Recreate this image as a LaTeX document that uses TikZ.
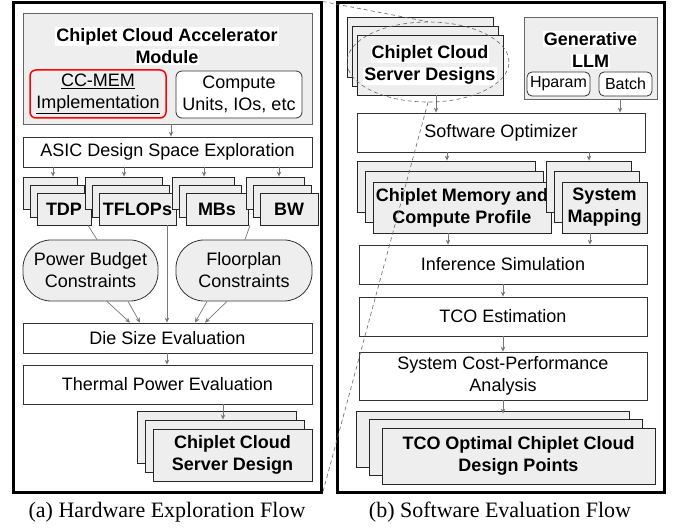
\documentclass[tikz,border=0pt]{standalone}
\usepackage{fontspec}
\setmainfont{Liberation Sans}
\newfontfamily\capfont{Liberation Serif}
\usetikzlibrary{arrows.meta,shapes.geometric,calc}
\newcommand\whl[1]{{\setlength{\fboxsep}{1pt}\colorbox{white}{#1}}}
\newcommand\fs{\fontsize{18}{22}\selectfont}
\newcommand\fsm{\fontsize{16}{19}\selectfont}
\definecolor{boxgray}{HTML}{EEEEEE}
\definecolor{arrgray}{HTML}{777777}
\newcommand\mystack[8]{%
  \node[stk, minimum width=#4pt, minimum height=#5pt] (#1-c) at ({#2-2*#6},{#3-2*#7}) {};
  \node[stk, minimum width=#4pt, minimum height=#5pt] (#1-b) at ({#2-#6},{#3-#7}) {};
  \node[stk, minimum width=#4pt, minimum height=#5pt, font=\fs\bfseries] (#1) at (#2,#3) {#8};
}
\begin{document}
\begin{tikzpicture}[x=1pt,y=-1pt,
  plain/.style={draw=black!80, line width=0.8pt, fill=white, inner sep=0pt, align=center, font=\fs},
  gbox/.style={plain, fill=boxgray, draw=black!60},
  stk/.style={draw=black!85, line width=0.8pt, fill=boxgray, inner sep=0pt, align=center},
  rbox/.style={plain, rounded corners=6pt},
  cons/.style={plain, fill=boxgray, rounded corners=28pt},
  outer/.style={draw=black, line width=3pt, inner sep=0pt},
  arr/.style={-{Stealth[length=5pt,width=4.5pt]}, draw=arrgray, line width=0.7pt},
  ln/.style={draw=arrgray, line width=0.7pt},
  zoomln/.style={draw=black!60, line width=0.6pt, dash pattern=on 4pt off 3pt},
  captext/.style={font=\capfont\fontsize{22}{26}\selectfont, inner sep=0pt}]
\useasboundingbox (0,0) rectangle (675,529);

% ---------- (a) Hardware Exploration Flow ----------
\node[outer, minimum width=308pt, minimum height=489pt] (L) at (167,247.5) {};
\node[gbox, minimum width=289pt, minimum height=111pt] (mod) at (167.5,68.5) {};
\node[inner sep=0pt, align=center, font=\fs\bfseries] (modt) at (167,46) {\whl{Chiplet Cloud Accelerator}\\\whl{Module}};
\node[rbox, draw=red, line width=1.5pt, fill=boxgray, minimum width=136pt, minimum height=48pt] (ccmem) at (98,94) {\underline{CC-MEM}\\\underline{Implementation}};
\node[rbox, minimum width=126pt, minimum height=47pt] (comp) at (239,94.5) {Compute\\Units, IOs, etc};
\node[plain, minimum width=289pt, minimum height=30pt] (asic) at (167.5,152) {ASIC Design Space Exploration};

\mystack{tdp}{64}{209}{54}{32}{7}{8}{TDP}
\mystack{tfl}{137.5}{209}{77}{32}{7}{8}{TFLOPs}
\mystack{mbs}{217}{209}{62}{32}{7}{8}{MBs}
\mystack{bw}{289}{209}{58}{32}{7}{8}{BW}

\node[cons, minimum width=135pt, minimum height=61pt] (power) at (90.5,270.5) {Power Budget\\Constraints};
\node[cons, minimum width=136pt, minimum height=61pt] (floor) at (244,270.5) {Floorplan\\Constraints};
\node[plain, minimum width=289pt, minimum height=30pt] (die) at (167.5,338) {Die Size Evaluation};
\node[plain, minimum width=289pt, minimum height=39pt] (therm) at (167.5,384.5) {Thermal Power Evaluation};
\mystack{ccsd}{232.5}{455}{159}{52}{8}{9}{Chiplet Cloud\\Server Design}

\draw[arr] (mod.south -| 171,0) -- (asic.north -| 171,0);
\draw[arr] (asic.south -| 53,0) -- (tdp-c.north -| 53,0);
\draw[arr] (asic.south -| 124,0) -- (tfl-c.north -| 124,0);
\draw[arr] (asic.south -| 204,0) -- (mbs-c.north -| 204,0);
\draw[arr] (asic.south -| 279,0) -- (bw-c.north -| 279,0);
\draw[ln] (tdp.south -| 88,0) -- (power.north -| 97,0);
\draw[ln] (bw.south -| 250,0) -- (floor.north -| 245,0);
\draw[arr] (power.south -| 107,0) -- (die.north -| 130,0);
\draw[arr] (power.south -| 128,0) -- (die.north -| 140,0);
\draw[arr] (tfl.south -| 167,0) -- (die.north -| 167,0);
\draw[arr] (floor.south -| 207,0) -- (die.north -| 195,0);
\draw[arr] (floor.south -| 227,0) -- (die.north -| 205,0);
\draw[arr] (die.south -| 167,0) -- (therm.north -| 167,0);
\draw[arr] (therm.south -| 223,0) -- (ccsd-b.north -| 223,0);

% ---------- (b) Software Evaluation Flow ----------
\node[outer, minimum width=327pt, minimum height=489pt] (R) at (500.5,247.5) {};
\mystack{ccsds}{430}{65}{146}{60}{5}{9}{\whl{Chiplet Cloud}\\\whl{Server Designs}}
\node[gbox, minimum width=133pt, minimum height=82pt] (gllm) at (590.5,58) {};
\node[inner sep=0pt, align=center, font=\fs\bfseries] (gllmt) at (590.5,50) {\whl{Generative}\\\whl{LLM}};
\node[rbox, font=\fsm, rounded corners=5pt, minimum width=63pt, minimum height=24pt] (hp) at (558.5,84) {Hparam};
\node[rbox, font=\fsm, rounded corners=5pt, minimum width=53pt, minimum height=24pt] (batch) at (625.5,84) {Batch};
\node[plain, minimum width=288pt, minimum height=39pt] (swopt) at (501,132.5) {Software Optimizer};
\mystack{cmcp}{462}{207.5}{178}{51}{8}{10.5}{Chiplet Memory and\\Compute Profile}
\mystack{smap}{604.5}{207.5}{85}{51}{8}{10.5}{System\\Mapping}
\node[plain, minimum width=288pt, minimum height=39pt] (inf) at (503,264.5) {Inference Simulation};
\node[plain, minimum width=288pt, minimum height=39pt] (tco) at (503,316.5) {TCO Estimation};
\node[plain, minimum width=288pt, minimum height=48pt] (scpa) at (503,376) {System Cost-Performance\\Analysis};
\mystack{opt}{518.5}{456}{273}{56}{13}{8.5}{TCO Optimal Chiplet Cloud\\Design Points}

\draw[arr] (ccsds.south -| 436,0) -- (swopt.north -| 436,0);
\draw[arr] (gllm.south -| 620,0) -- (swopt.north -| 620,0);
\draw[arr] (swopt.south -| 447,0) -- (cmcp-c.north -| 447,0);
\draw[arr] (swopt.south -| 589,0) -- (smap-c.north -| 589,0);
\draw[arr] (cmcp.south -| 448,0) -- (inf.north -| 448,0);
\draw[arr] (smap.south -| 590,0) -- (inf.north -| 590,0);
\draw[arr] (inf.south -| 503,0) -- (tco.north -| 503,0);
\draw[arr] (tco.south -| 503,0) -- (scpa.north -| 503,0);
\draw[arr] (scpa.south -| 503,0) -- ($(opt-c.north -| 503,0)+(0,3)$);

% ---------- zoom indication ----------
\node[ellipse, zoomln, minimum width=162pt, minimum height=80pt, inner sep=0pt] (zoom) at (428,62) {};
\draw[zoomln] (L.north east) -- (zoom.north);
\draw[zoomln] (zoom.south) -- (L.south east);

% ---------- captions ----------
\node[captext] (capa) at (167,512) {(a) Hardware Exploration Flow};
\node[captext] (capb) at (500,512) {(b) Software Evaluation Flow};
\end{tikzpicture}
\end{document}
